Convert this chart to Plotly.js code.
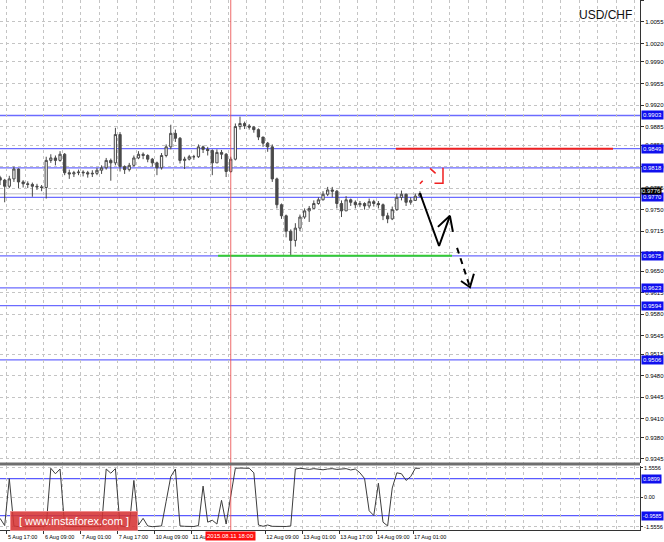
<!DOCTYPE html>
<html>
<head>
<meta charset="utf-8">
<script src="https://cdn.plot.ly/plotly-3.0.1.min.js"></script>
<style>html,body{margin:0;padding:0;background:#fff;}#chart{width:664px;height:542px;}</style>
</head>
<body>
<div id="chart"></div>
<script>
// ---- price data (2-hour candles, x = hours after 5 Aug 17:00, trading hours only) ----
const barOpen = [
  0.9802,0.9798,0.9788,0.9800,0.9816,0.9795,0.9792,0.9791,0.9788,0.9787,
  0.9786,0.9830,0.9834,0.9830,0.9840,0.9810,0.9808,0.9810,0.9811,0.9810,
  0.9808,0.9809,0.9814,0.9818,0.9830,0.9826,0.9872,0.9820,0.9815,0.9822,
  0.9834,0.9840,0.9838,0.9832,0.9826,0.9818,0.9838,0.9852,0.9874,0.9866,
  0.9830,0.9832,0.9836,0.9836,0.9852,0.9848,0.9846,0.9826,0.9843,0.9840,
  0.9812,0.9832,0.9885,0.9890,0.9886,0.9884,0.9880,0.9868,0.9858,0.9852,
  0.9800,0.9758,0.9740,0.9715,0.9700,0.9720,0.9738,0.9748,0.9752,0.9760,
  0.9766,0.9775,0.9782,0.9780,0.9760,0.9748,0.9766,0.9762,0.9758,0.9760,
  0.9756,0.9763,0.9760,0.9758,0.9740,0.9735,0.9750,0.9770,0.9775,0.9762,
  0.9765,0.9772
];
const barHigh = [
  0.9805,0.9800,0.9805,0.9820,0.9817,0.9798,0.9796,0.9794,0.9792,0.9790,
  0.9836,0.9840,0.9838,0.9845,0.9842,0.9815,0.9813,0.9815,0.9814,0.9813,
  0.9814,0.9818,0.9822,0.9834,0.9833,0.9883,0.9876,0.9822,0.9826,0.9838,
  0.9845,0.9843,0.9840,0.9834,0.9828,0.9842,0.9856,0.9888,0.9880,0.9868,
  0.9836,0.9839,0.9839,0.9856,0.9854,0.9852,0.9848,0.9848,0.9847,0.9842,
  0.9836,0.9890,0.9901,0.9893,0.9889,0.9886,0.9882,0.9868,0.9860,0.9856,
  0.9802,0.9760,0.9742,0.9718,0.9728,0.9742,0.9752,0.9756,0.9765,0.9770,
  0.9780,0.9787,0.9787,0.9782,0.9765,0.9772,0.9768,0.9765,0.9764,0.9762,
  0.9768,0.9766,0.9764,0.9760,0.9745,0.9755,0.9776,0.9781,0.9776,0.9770,
  0.9776,0.9780
];
const barLow = [
  0.9790,0.9762,0.9785,0.9795,0.9785,0.9786,0.9785,0.9771,0.9782,0.9780,
  0.9768,0.9826,0.9822,0.9828,0.9806,0.9800,0.9803,0.9806,0.9804,0.9802,
  0.9803,0.9806,0.9808,0.9815,0.9797,0.9822,0.9812,0.9808,0.9812,0.9820,
  0.9832,0.9832,0.9827,0.9820,0.9806,0.9815,0.9835,0.9848,0.9860,0.9825,
  0.9816,0.9830,0.9831,0.9834,0.9842,0.9838,0.9806,0.9826,0.9832,0.9803,
  0.9810,0.9830,0.9880,0.9881,0.9880,0.9875,0.9863,0.9852,0.9844,0.9795,
  0.9752,0.9735,0.9705,0.9676,0.9690,0.9715,0.9735,0.9730,0.9752,0.9758,
  0.9765,0.9772,0.9770,0.9752,0.9738,0.9748,0.9756,0.9752,0.9754,0.9750,
  0.9752,0.9755,0.9752,0.9733,0.9728,0.9733,0.9748,0.9765,0.9756,0.9758,
  0.9764,0.9770
];
const barClose = [
  0.9798,0.9788,0.9800,0.9816,0.9795,0.9792,0.9791,0.9788,0.9787,0.9786,
  0.9830,0.9834,0.9830,0.9840,0.9810,0.9808,0.9810,0.9811,0.9810,0.9808,
  0.9809,0.9814,0.9818,0.9830,0.9826,0.9872,0.9820,0.9815,0.9822,0.9834,
  0.9840,0.9838,0.9832,0.9826,0.9818,0.9838,0.9852,0.9874,0.9866,0.9830,
  0.9832,0.9836,0.9836,0.9852,0.9848,0.9846,0.9826,0.9843,0.9840,0.9812,
  0.9832,0.9885,0.9890,0.9886,0.9884,0.9880,0.9868,0.9858,0.9852,0.9800,
  0.9758,0.9740,0.9715,0.9700,0.9720,0.9738,0.9748,0.9752,0.9760,0.9766,
  0.9775,0.9782,0.9780,0.9760,0.9748,0.9766,0.9762,0.9758,0.9760,0.9756,
  0.9763,0.9760,0.9758,0.9740,0.9735,0.9750,0.9770,0.9775,0.9762,0.9765,
  0.9772,0.9776
];
// indicator (lower pane)
const indicatorValues = [
  -1.10,-1.48,0.99,-1.50,-1.54,-1.54,-1.52,-1.54,-1.54,-1.53,
  -1.50,1.54,1.25,1.50,-1.50,-1.54,-1.54,-1.53,-1.54,-1.54,
  -1.54,-1.53,-1.52,1.50,1.28,1.52,-1.48,-1.54,-1.52,0.90,
  -1.45,-1.10,-1.50,-1.54,-1.53,-1.50,-0.20,1.10,1.50,-1.50,
  -1.52,-1.54,-1.53,-1.48,0.60,-1.30,-1.20,-1.40,-0.15,-1.40,
  0.20,1.54,1.55,1.55,1.54,1.30,-1.45,-1.52,-1.45,-1.52,
  -1.53,-1.52,-1.53,-1.50,1.50,1.54,1.52,1.48,1.52,1.50,
  1.46,1.50,1.52,1.48,1.50,1.52,1.45,1.50,1.30,1.00,
  -0.70,-0.95,0.75,-1.30,-1.50,0.50,1.30,1.25,0.90,1.10,
  1.54,1.54
];
const firstBarHour = -3, barStepHours = 2;

// ---- axes ----
const timeTickHours = [0,16,32,48,64,80,112,128,144,160,176];
const timeTickLabels = ['5 Aug 17:00','6 Aug 09:00','7 Aug 01:00','7 Aug 17:00','10 Aug 09:00','11 Aug 01:00','12 Aug 09:00','13 Aug 01:00','13 Aug 17:00','14 Aug 09:00','17 Aug 01:00'];
const priceTicks = [1.0090,1.0055,1.0020,0.9990,0.9955,0.9920,0.9885,0.9855,0.9820,0.9785,0.9750,0.9715,0.9680,0.9650,0.9615,0.9580,0.9545,0.9515,0.9480,0.9445,0.9410,0.9380,0.9345];
const indicatorTicks = [1.5556,0,-1.5556];
const indicatorTickLabels = ['1.5556','0.00','-1.5556'];

// ---- drawn levels ----
const blueLevels = [0.9903,0.9849,0.9818,0.9770,0.9675,0.9623,0.9594,0.9506];
const bidPrice = 0.9776;
const indicatorLevels = [0.9899,-0.9585];
const resistanceLevel = 0.9849, resistanceFrom = 168.6, resistanceTo = 262.7;
const supportLevel = 0.9675, supportFrom = 91.5, supportTo = 192.9;
const crosshairHour = 97, crosshairLabel = '2015.08.11 18:00';

// ---- hand-drawn forecast arrows ----
const solidPathX = [179.0,187.3,192.0], solidPathY = [0.9777,0.9691,0.9740];
const solidHeadX = [186.8,192.0,193.3], solidHeadY = [0.9722,0.9740,0.9714];
const dashPathX = [195.1,200.7], dashPathY = [0.9688,0.9624];
const dashHeadX = [196.8,200.7,202.4], dashHeadY = [0.9634,0.9624,0.9646];
const redDotX = [179.0,180.2], redDotY = [0.9792,0.9797];
const redShaftX = [183.4,185.8], redShaftY = [0.9817,0.9809];
const redHeadX = [185.3,189.0,189.0], redHeadY = [0.9793,0.9793,0.9818];

const barX = barClose.map((_, i) => firstBarHour + i * barStepHours);

const traces = [
  {type:'candlestick', x: barX, open: barOpen, high: barHigh, low: barLow, close: barClose,
   xaxis:'x', yaxis:'y', hoverinfo:'skip', whiskerwidth: 0,
   increasing:{line:{color:'#4a4a4a', width:1}, fillcolor:'#f4f4f4'},
   decreasing:{line:{color:'#4a4a4a', width:1}, fillcolor:'#4a4a4a'}},
  {type:'scatter', mode:'lines', x: barX, y: indicatorValues, xaxis:'x', yaxis:'y2',
   line:{color:'#3c3c3c', width:1}, hoverinfo:'skip'},
  {type:'scatter', mode:'lines', x: solidPathX, y: solidPathY, line:{color:'#000', width:2}, hoverinfo:'skip'},
  {type:'scatter', mode:'lines', x: solidHeadX, y: solidHeadY, line:{color:'#000', width:2}, hoverinfo:'skip'},
  {type:'scatter', mode:'lines', x: dashPathX, y: dashPathY, line:{color:'#000', width:2, dash:'6px,5px'}, hoverinfo:'skip'},
  {type:'scatter', mode:'lines', x: dashHeadX, y: dashHeadY, line:{color:'#000', width:2}, hoverinfo:'skip'},
  {type:'scatter', mode:'lines', x: redDotX, y: redDotY, line:{color:'#f02020', width:1.5}, hoverinfo:'skip'},
  {type:'scatter', mode:'lines', x: redShaftX, y: redShaftY, line:{color:'#f02020', width:1.5}, hoverinfo:'skip'},
  {type:'scatter', mode:'lines', x: redHeadX, y: redHeadY, line:{color:'#f02020', width:1.5}, hoverinfo:'skip'}
];

const shapes = [];
blueLevels.forEach(v => shapes.push({type:'line', xref:'paper', x0:0, x1:1, yref:'y', y0:v, y1:v, layer:'below', line:{color:'#6b6bff', width:1.3}}));
shapes.push({type:'line', xref:'paper', x0:0, x1:1, yref:'y', y0:bidPrice, y1:bidPrice, layer:'below', line:{color:'#d4d4d4', width:1.5}});
indicatorLevels.forEach(v => shapes.push({type:'line', xref:'paper', x0:0, x1:1, yref:'y2', y0:v, y1:v, layer:'below', line:{color:'#5a5aff', width:1.2}}));
shapes.push({type:'line', xref:'x', x0:resistanceFrom, x1:resistanceTo, yref:'y', y0:resistanceLevel, y1:resistanceLevel, line:{color:'#ee2020', width:2}});
shapes.push({type:'line', xref:'x', x0:supportFrom, x1:supportTo, yref:'y', y0:supportLevel, y1:supportLevel, line:{color:'#33cc33', width:2}});
shapes.push({type:'line', xref:'x', x0:crosshairHour, x1:crosshairHour, yref:'paper', y0:0, y1:1, line:{color:'rgba(235,80,80,0.85)', width:1}});
shapes.push({type:'line', xref:'paper', x0:0, x1:1, yref:'paper', y0:0.1245, y1:0.1245, line:{color:'#6e6e6e', width:3}});

const annotations = [];
const boxFont = {family:'Liberation Sans, Arial, sans-serif', size:6, color:'#ffffff'};
blueLevels.forEach(v => annotations.push({xref:'paper', x:1, xanchor:'left', xshift:1, yref:'y', y:v, yanchor:'middle',
  text:v.toFixed(4), showarrow:false, font:boxFont, bgcolor:'#1010ee', borderpad:1}));
annotations.push({xref:'paper', x:1, xanchor:'left', xshift:1, yref:'y', y:bidPrice, yanchor:'bottom', yshift:-1,
  text:bidPrice.toFixed(4), showarrow:false, font:boxFont, bgcolor:'#000000', borderpad:0});
indicatorLevels.forEach(v => annotations.push({xref:'paper', x:1, xanchor:'left', xshift:1, yref:'y2', y:v, yanchor:'middle',
  text:v.toFixed(4), showarrow:false, font:{family:'Liberation Sans, Arial, sans-serif', size:5.5, color:'#ffffff'}, bgcolor:'#1010ee', borderpad:1}));
annotations.push({xref:'x', x:crosshairHour, xanchor:'center', yref:'paper', y:0, yanchor:'top', yshift:-1,
  text:crosshairLabel, showarrow:false, font:{family:'Liberation Sans, Arial, sans-serif', size:6, color:'#fff'}, bgcolor:'#ff1010', borderpad:1});
annotations.push({xref:'paper', x:0.991, xanchor:'right', yref:'paper', y:0.9717, yanchor:'middle',
  text:'USD/CHF', showarrow:false, font:{family:'Liberation Sans, Arial, sans-serif', size:12, color:'#111'}});
annotations.push({xref:'paper', x:0.0156, xanchor:'left', yref:'paper', y:0.017, yanchor:'middle',
  text:'[ www.instaforex.com ]', showarrow:false, width:124, height:16,
  font:{family:'Liberation Sans, Arial, sans-serif', size:11, color:'#ffffff'},
  bgcolor:'rgba(214,52,52,0.88)', bordercolor:'rgba(240,140,140,0.9)', borderwidth:1, borderpad:1});

const gridStyle = {showgrid:true, gridcolor:'#c4c4c4', griddash:'dot', gridwidth:1};
const layout = {
  width:664, height:542,
  margin:{l:0, r:24, t:0, b:12, pad:0},
  paper_bgcolor:'#ffffff', plot_bgcolor:'#ffffff',
  showlegend:false,
  font:{family:'Liberation Sans, Arial, sans-serif', size:6, color:'#000'},
  xaxis: Object.assign({
    anchor:'y2', range:[-3.03, 274.4], tickmode:'array', tickvals:timeTickHours, ticktext:timeTickLabels,
    ticks:'outside', ticklen:3, tickcolor:'#333', ticklabelposition:'outside right', tickangle:0,
    ticklabelstandoff:1,
    minor:{tickmode:'linear', tick0:0, dtick:8, showgrid:true, gridcolor:'#c4c4c4', griddash:'dot', ticks:''},
    showline:true, linecolor:'#333', linewidth:1, zeroline:false,
    rangeslider:{visible:false}, fixedrange:true, tickfont:{size:5.5}
  }, gridStyle),
  yaxis: Object.assign({
    domain:[0.1264, 1], range:[0.93384, 1.00906], side:'right', anchor:'x',
    tickmode:'array', tickvals:priceTicks, ticktext:priceTicks.map(v => v.toFixed(4)),
    ticks:'outside', ticklen:3, tickcolor:'#333', showline:true, linecolor:'#333', zeroline:false,
    tickfont:{size:6}, fixedrange:true
  }, gridStyle),
  yaxis2: Object.assign({
    domain:[0, 0.1208], range:[-1.714, 1.661], side:'right', anchor:'x',
    tickmode:'array', tickvals:indicatorTicks, ticktext:indicatorTickLabels,
    ticks:'outside', ticklen:2, tickcolor:'#333', showline:true, linecolor:'#333', zeroline:false,
    tickfont:{size:5.5}, fixedrange:true
  }, gridStyle),
  shapes: shapes,
  annotations: annotations
};

Plotly.newPlot('chart', traces, layout, {staticPlot:true, displayModeBar:false});
</script>
</body>
</html>
